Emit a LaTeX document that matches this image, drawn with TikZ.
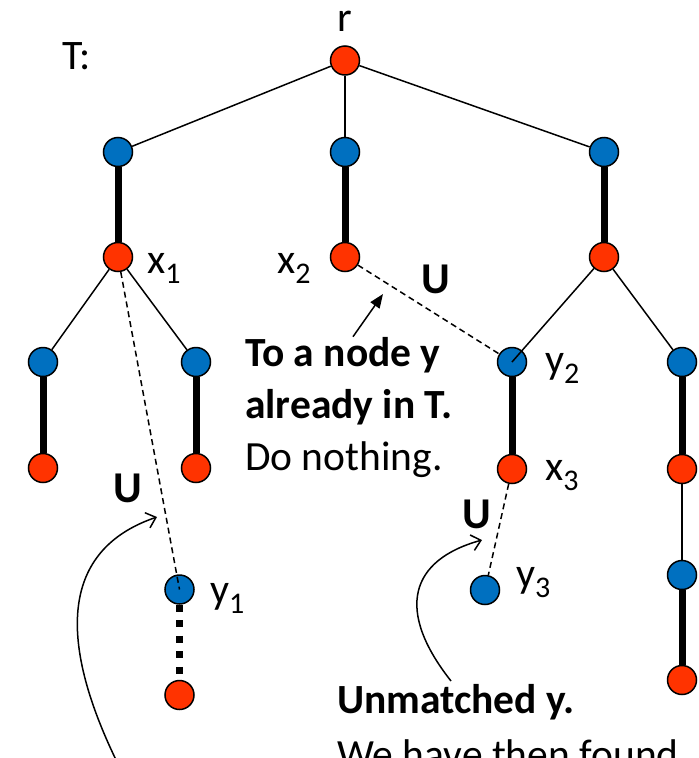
\documentclass[tikz,border=0pt]{standalone}
\usepackage{fontspec}
\setmainfont{Carlito}
\usetikzlibrary{positioning,arrows.meta}
\definecolor{vred}{HTML}{FF3300}
\definecolor{vblue}{HTML}{0070C0}
\newcommand{\lowsub}[1]{\raisebox{-0.26em}{\fontsize{30}{30}\selectfont #1}}

\begin{document}
\begin{tikzpicture}[x=1pt,y=-1pt,
    vx/.style={circle,draw,line width=1.5pt,minimum size=29pt,inner sep=0pt},
    rv/.style={vx,fill=vred},
    bv/.style={vx,fill=vblue},
    tree/.style={line width=1.5pt},
    mat/.style={line width=7pt},
    alt/.style={line width=1.5pt,dash pattern=on 6pt off 4pt},
    lbl/.style={inner sep=0pt,anchor=base west,font=\fontsize{42}{50}\selectfont},
    ubl/.style={inner sep=0pt,anchor=base,font=\fontsize{44}{50}\selectfont\bfseries}]
        \useasboundingbox (0,0) rectangle (699,758);
        \clip (0,0) rectangle (699,758);
        % tree T
        \node[rv] (r) at (345,60.5) {};
        \node[bv] (a1) at (118,152) {};
        \node[bv] (a2) at (345,152) {};
        \node[bv] (a3) at (604,152) {};
        \node[rv] (x1) at (118,257) {};
        \node[rv] (x2) at (345,257) {};
        \node[rv] (m3) at (604,257) {};
        \node[bv] (p1) at (43,362) {};
        \node[bv] (p2) at (196,362) {};
        \node[rv] (q1) at (43,468) {};
        \node[rv] (q2) at (196,468) {};
        \node[bv] (y2) at (512,362) {};
        \node[rv] (x3) at (512,469) {};
        \node[bv] (b4) at (682,362) {};
        \node[rv] (c4) at (682,469) {};
        \node[bv] (d4) at (682,575) {};
        \node[rv] (e4) at (682,680) {};
        \node[bv] (y1) at (179.5,589.5) {};
        \node[rv] (f1) at (179.5,695) {};
        \node[bv] (y3) at (485,590) {};
        \draw[tree] (r) -- (a1);
        \draw[tree] (r) -- (a2);
        \draw[tree] (r) -- (a3);
        \draw[mat] (a1) -- (x1);
        \draw[mat] (a2) -- (x2);
        \draw[mat] (a3) -- (m3);
        \draw[tree] (x1) -- (p1);
        \draw[tree] (x1) -- (p2);
        \draw[mat] (p1) -- (q1);
        \draw[mat] (p2) -- (q2);
        \draw[tree] (m3) -- (y2.center);
        \draw[tree] (m3) -- (b4);
        \draw[mat] (y2) -- (x3);
        \draw[mat] (b4) -- (c4);
        \draw[tree] (c4) -- (d4);
        \draw[mat] (d4) -- (e4);
        \draw[line width=7pt,dash pattern=on 7pt off 8.5pt] (y1) -- (f1);
        % edges not in T
        \draw[alt] (x2) -- (y2);
        \draw[alt] (x1) -- (y1.center);
        \draw[alt] (x3) -- (y3);
        % labels
        \node[inner sep=0pt,anchor=base,font=\fontsize{42}{50}\selectfont] (lr) at (345,31) {r};
        \node[lbl] (lt) at (62,69) {T:};
        \node[lbl] (lx1) at (147,273) {x\lowsub{1}};
        \node[lbl] (lx2) at (277,273) {x\lowsub{2}};
        \node[lbl] (ly2) at (545,373) {y\lowsub{2}};
        \node[lbl] (lx3) at (545,480) {x\lowsub{3}};
        \node[lbl] (ly1) at (210,603) {y\lowsub{1}};
        \node[lbl] (ly3) at (516,587) {y\lowsub{3}};
        \node[ubl] (u2) at (436,293) {U};
        \node[ubl] (u1) at (128,502) {U};
        \node[ubl] (u3) at (477,528) {U};
        % comments
        \node[lbl,font=\fontsize{41.5}{50}\selectfont\bfseries] (ta) at (245,366) {To a node y};
        \node[lbl,font=\fontsize{41.5}{50}\selectfont\bfseries] (tb) at (245,418) {already in T.};
        \node[lbl,font=\fontsize{41.5}{50}\selectfont] (tc) at (245,470) {Do nothing.};
        \node[lbl,font=\fontsize{41.5}{50}\selectfont\bfseries] (ua) at (337,713) {Unmatched y.};
        \node[lbl,font=\fontsize{41.5}{50}\selectfont] (ub) at (337,768) {We have then found};
        \coordinate (h2) at (383,294);
        \coordinate (h1) at (157,517);
        \coordinate (s1) at (122,772);
        \coordinate (h3) at (482,540);
        \coordinate (s3) at (451,681);
        \draw[line width=1.5pt,-{Triangle[length=14pt,width=11pt]}] ([xshift=108pt]ta.north west) -- (h2);
        \draw[line width=1.5pt,-{Straight Barb[length=9pt,width=16pt]}] (s1) .. controls (45,620) and (75,545) .. (h1);
        \draw[line width=1.5pt,-{Straight Barb[length=9pt,width=16pt]}] (s3) .. controls (395,610) and (410,560) .. (h3);
\end{tikzpicture}
\end{document}
